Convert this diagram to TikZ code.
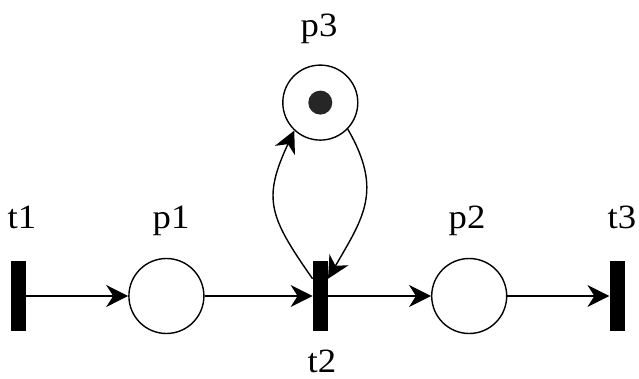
\documentclass[tikz,border=0pt]{standalone}
\usepackage{fontspec}
\setmainfont[FakeStretch=1.08]{Liberation Serif}
\usepackage{tikz}
\usetikzlibrary{positioning,arrows.meta}

\begin{document}
\begin{tikzpicture}[x=1pt, y=1pt,
    place/.style={circle, draw=black, line width=1.4pt,
                  minimum size=75pt, inner sep=0pt},
    trans/.style={rectangle, fill=black, minimum width=15pt,
                  minimum height=70pt, inner sep=0pt},
    token/.style={circle, fill=black!85, minimum size=24pt, inner sep=0pt},
    lbl/.style={font=\fontsize{34}{38}\selectfont, inner sep=0pt, anchor=base},
    arrow/.style={-{Stealth[length=22pt, width=22pt, inset=7pt]}, line width=1.4pt}
]
    \useasboundingbox (0,0) rectangle (639,378);

    % transitions and places
    \node[trans] (t1) at (18.5,82) {};
    \node[place, right=102pt of t1] (p1) {};
    \node[trans, right=108pt of p1] (t2) {};
    \node[place, right=103pt of t2] (p2) {};
    \node[trans, right=102pt of p2] (t3) {};
    \node[place, above=120pt of t2] (p3) {};
    \node[token] (tok) at (p3) {};

    % labels
    \node[lbl] (t1lbl) at (22,150) {t1};
    \node[lbl] (p1lbl) at (171,150) {p1};
    \node[lbl] (p2lbl) at (467,150) {p2};
    \node[lbl] (t3lbl) at (622,150) {t3};
    \node[lbl] (p3lbl) at (319,341) {p3};
    \node[lbl] (t2lbl) at (322,6) {t2};

    % arcs
    \draw[arrow] (t1) -- (p1);
    \draw[arrow] (p1) -- (t2);
    \draw[arrow] (t2) -- (p2);
    \draw[arrow] (p2) -- (t3);
    \draw[arrow] ([yshift=-18pt]t2.north west) to[out=125, in=245, looseness=1.3] (p3.227);
    \draw[arrow] (p3.316) to[out=-60, in=60, looseness=1.2] ([yshift=-18pt]t2.north east);
\end{tikzpicture}
\end{document}
